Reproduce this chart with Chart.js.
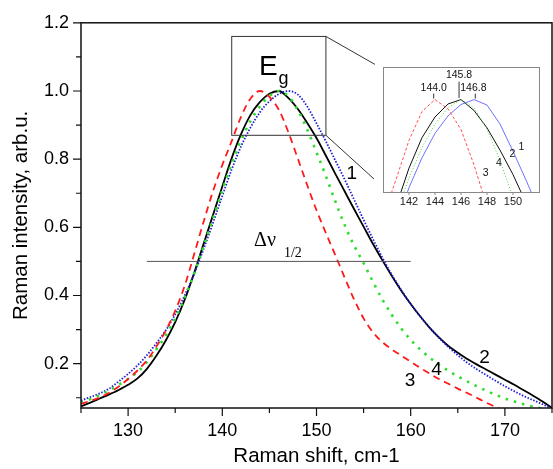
<!DOCTYPE html>
<html><head><meta charset="utf-8">
<script src="https://cdn.jsdelivr.net/npm/chart.js@4"></script>
<style>
html,body{margin:0;padding:0;background:#fff;overflow:hidden}
#wrap{position:relative;width:553px;height:469px}
#main{position:absolute;left:0;top:0}
#inset{position:absolute;left:370px;top:60px}
</style></head><body>
<div id="wrap"><canvas id="main" width="553" height="469"></canvas><canvas id="inset" width="183" height="155"></canvas></div>
<script>
// ---- data ----
const ramanShift = [125,126,127,128,129,130,131,132,133,134,135,136,137,138,139,140,141,142,143,144,145,146,147,148,149,150,
                    151,152,153,154,155,156,157,158,159,160,161,162,163,164,165,166,167,168,169,170,171,172,173,174,175];
const curve1 = [.092,.102,.113,.127,.148,.170,.195,.225,.260,.298,.345,.400,.462,.535,.612,.692,.770,.838,.893,.938,.970,.991,1.000,.990,.955,.905,
                .852,.796,.740,.681,.622,.565,.511,.461,.416,.375,.339,.306,.276,.249,.225,.203,.184,.167,.150,.134,.119,.105,.093,.081,.068];
const curve2 = [.075,.086,.098,.110,.123,.138,.157,.185,.223,.268,.322,.387,.465,.550,.635,.720,.803,.874,.930,.968,.992,1.000,.980,.948,.907,.862,
                .810,.757,.705,.653,.602,.551,.503,.457,.414,.375,.339,.306,.277,.252,.232,.214,.198,.183,.168,.153,.138,.122,.106,.089,.070];
const curve3 = [.082,.091,.101,.115,.133,.155,.180,.210,.250,.297,.355,.428,.520,.615,.705,.783,.853,.925,.978,1.000,.983,.945,.880,.803,.725,.650,
                .583,.518,.452,.388,.333,.292,.263,.242,.224,.206,.188,.171,.155,.141,.127,.114,.100,.086,.073,.060,.047,.035,.023,.012,.000];
const curve4 = [.085,.096,.108,.122,.138,.155,.176,.205,.242,.283,.333,.393,.463,.543,.625,.708,.788,.856,.912,.955,.985,1.000,.985,.945,.888,.820,
                .750,.676,.606,.546,.495,.440,.388,.343,.303,.270,.242,.218,.197,.179,.163,.148,.134,.121,.109,.098,.089,.081,.074,.068,.062];
const curveNames = ['1','2','3','4'];
const xTicks = [130,140,150,160,170];
const yTicks = [0.2,0.4,0.6,0.8,1.0,1.2];
const insetTicks = [142,144,146,148,150];
const peakLabels = ['144.0','145.8','146.8'];
const halfWidthX = [132,160];
const halfWidthY = [0.5,0.5];

const pts = arr => ramanShift.map((x,i)=>({x, y:arr[i]}));
const FONT = "'Liberation Sans', Arial, sans-serif";

const mainDecor = {
  id:'mainDecor',
  afterDraw(chart){
    const {ctx, chartArea:a, scales:{x,y}} = chart;
    const X = v=>x.getPixelForValue(v), Y = v=>y.getPixelForValue(v);
    ctx.save();
    ctx.strokeStyle='#111'; ctx.lineWidth=1.5;
    ctx.strokeRect(a.left, a.top, a.right-a.left, a.bottom-a.top);
    ctx.lineWidth=1.2; ctx.beginPath();
    for (let v=125; v<=175; v+=5){ const p=X(v); const len = xTicks.includes(v)?8:5; ctx.moveTo(p,a.bottom); ctx.lineTo(p,a.bottom+len); }
    for (let i=1;i<=12;i++){ const v=i/10; const p=Y(v); const len = i%2===0?8:5; ctx.moveTo(a.left,p); ctx.lineTo(a.left-len,p); }
    ctx.stroke();
    // zoom box and connectors
    ctx.strokeStyle='#333'; ctx.lineWidth=1;
    ctx.strokeRect(X(141), Y(1.16), X(151)-X(141), Y(0.87)-Y(1.16));
    ctx.beginPath();
    ctx.moveTo(X(151),Y(1.16)); ctx.lineTo(X(156.2),Y(1.078));
    ctx.moveTo(X(151),Y(0.87)); ctx.lineTo(X(156.1),Y(0.742));
    ctx.stroke();
    // texts
    ctx.fillStyle='#000'; ctx.textBaseline='alphabetic'; ctx.textAlign='left';
    ctx.font = "28px "+FONT; ctx.fillText('E', X(143.9), Y(1.048));
    ctx.font = "18px "+FONT; ctx.fillText('g', X(145.96), Y(1.020));
    ctx.font = "20px 'Liberation Serif', serif"; ctx.fillText('\u0394\u03bd', X(143.37), Y(0.544));
    ctx.font = "14px 'Liberation Serif', serif"; ctx.fillText('1/2', X(146.54), Y(0.512));
    ctx.textAlign='center'; ctx.textBaseline='middle';
    ctx.font = "19px "+FONT;
    const lp = [[153.75,0.756],[167.84,0.218],[159.92,0.149],[162.73,0.181]];
    curveNames.forEach((t,i)=>ctx.fillText(t, X(lp[i][0]), Y(lp[i][1])));
    ctx.restore();
  }
};

new Chart(document.getElementById('main'), {
  type:'line',
  data:{datasets:[
    {data:halfWidthX.map((x,i)=>({x,y:halfWidthY[i]})), borderColor:'#555', borderWidth:1, pointRadius:0},
    {data:pts(curve3), borderColor:'#ff1a1a', borderWidth:1.8, borderDash:[7,5], pointRadius:0, cubicInterpolationMode:'monotone'},
    {data:pts(curve4), borderColor:'#2ddc2d', borderWidth:2.6, borderDash:[2.5,6], pointRadius:0, cubicInterpolationMode:'monotone'},
    {data:pts(curve1), borderColor:'#1f1fd8', borderWidth:1.8, borderDash:[1.5,1.6], pointRadius:0, cubicInterpolationMode:'monotone'},
    {data:pts(curve2), borderColor:'#000', borderWidth:1.8, pointRadius:0, cubicInterpolationMode:'monotone'}
  ]},
  options:{
    responsive:false, devicePixelRatio:1, animation:false, events:[],
    layout:{padding:{top:22,right:1,left:0,bottom:0}},
    plugins:{legend:{display:false}, tooltip:{enabled:false}},
    scales:{
      x:{type:'linear', min:125, max:175,
        afterBuildTicks:s=>{s.ticks = xTicks.map(v=>({value:v}));},
        afterFit:s=>{s.height=61;},
        grid:{display:false, drawTicks:false}, border:{display:false},
        ticks:{padding:12, color:'#000', font:{family:FONT,size:18}, callback:v=>String(v), maxRotation:0},
        title:{display:true, text:'Raman shift, cm-1', color:'#000', font:{family:FONT,size:20.5}, padding:{top:0,bottom:0}}
      },
      y:{type:'linear', min:0.07, max:1.2,
        afterBuildTicks:s=>{s.ticks = yTicks.map(v=>({value:v}));},
        afterFit:s=>{s.width=81;},
        grid:{display:false, drawTicks:false}, border:{display:false},
        ticks:{padding:12, color:'#000', font:{family:FONT,size:18}, callback:v=>Number(v).toFixed(1)},
        title:{display:true, text:'Raman intensity, arb.u.', color:'#000', font:{family:FONT,size:20.5}, padding:{top:9,bottom:0}}
      }
    }
  },
  plugins:[mainDecor]
});

const insetDecor = {
  id:'insetDecor',
  afterDraw(chart){
    const {ctx, chartArea:a, scales:{x,y}} = chart;
    const X = v=>x.getPixelForValue(v), Y = v=>y.getPixelForValue(v);
    ctx.save();
    ctx.strokeStyle='#888'; ctx.lineWidth=1;
    ctx.strokeRect(a.left+0.5, a.top+0.5, a.right-a.left, a.bottom-a.top);
    ctx.beginPath();
    insetTicks.forEach(v=>{ctx.moveTo(X(v),a.bottom); ctx.lineTo(X(v),a.bottom+3);});
    ctx.stroke();
    ctx.strokeStyle='#333';
    ctx.beginPath();
    ctx.moveTo(X(143.9),Y(1.011)); ctx.lineTo(X(143.9),Y(1.002));
    ctx.moveTo(X(145.85),Y(1.033)); ctx.lineTo(X(145.85),Y(1.003));
    ctx.moveTo(X(147.1),Y(1.011)); ctx.lineTo(X(147.1),Y(1.002));
    ctx.stroke();
    ctx.fillStyle='#111'; ctx.textAlign='center'; ctx.textBaseline='middle';
    ctx.font = "10.5px "+FONT;
    ctx.fillText(peakLabels[0], X(143.9), Y(1.022));
    ctx.fillText(peakLabels[1], X(145.85), Y(1.045));
    ctx.fillText(peakLabels[2], X(146.95), Y(1.022));
    const lp = [[150.65,0.912],[149.95,0.899],[147.9,0.865],[148.92,0.883]];
    curveNames.forEach((t,i)=>ctx.fillText(t, X(lp[i][0]), Y(lp[i][1])));
    ctx.restore();
  }
};

new Chart(document.getElementById('inset'), {
  type:'line',
  data:{datasets:[
    {data:pts(curve3), borderColor:'#ff5050', borderWidth:1, borderDash:[3,2], pointRadius:0, tension:0},
    {data:pts(curve4), borderColor:'#44d444', borderWidth:1, borderDash:[1,2], pointRadius:0, tension:0},
    {data:pts(curve1), borderColor:'#7070ff', borderWidth:1, pointRadius:0, tension:0},
    {data:pts(curve2), borderColor:'#111', borderWidth:1, pointRadius:0, tension:0}
  ]},
  options:{
    responsive:false, devicePixelRatio:1, animation:false, events:[],
    layout:{padding:{top:7,right:14,left:13,bottom:0}},
    plugins:{legend:{display:false}, tooltip:{enabled:false}},
    scales:{
      x:{type:'linear', min:140, max:152,
        afterBuildTicks:s=>{s.ticks = insetTicks.map(v=>({value:v}));},
        afterFit:s=>{s.height=23;},
        grid:{display:false, drawTicks:false}, border:{display:false},
        ticks:{padding:3, color:'#222', font:{family:FONT,size:11}, maxRotation:0}
      },
      y:{type:'linear', min:0.83, max:1.06, display:false}
    }
  },
  plugins:[insetDecor]
});
</script>
</body></html>
